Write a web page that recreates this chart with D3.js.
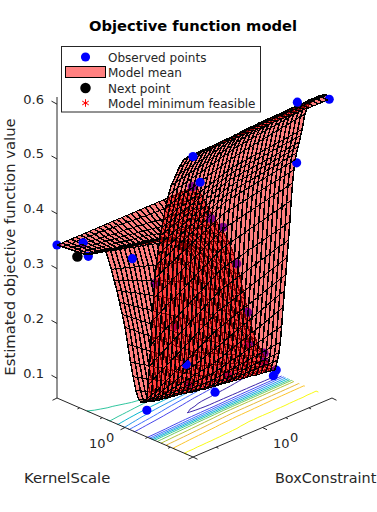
<!doctype html>
<html lang="en">
<head>
<meta charset="UTF-8">
<title>Objective function model</title>
<script src="https://cdn.jsdelivr.net/npm/d3@7"></script>
<style>
  html, body { margin: 0; padding: 0; background: #fff; }
  svg { display: block; font-family: "DejaVu Sans", sans-serif; }
</style>
</head>
<body>
<div class="canvas"></div>
<script>
// log10 of the grid, both hyperparameters run 1e-3 .. 1e3
const boxGridExp = d3.range(31).map(j => -3 + j * 0.2);
const kernelGridExp = [-3, -2.76, -2.52, -2.28, -2.04, -1.8, -1.56, -1.32, -1.08, -0.84,
  -0.6, -0.48, -0.36, -0.24, -0.12, 0, 0.12, 0.24, 0.36, 0.48, 0.6,
  0.66, 0.72, 0.78, 0.84, 0.9, 0.96, 1.02, 1.08, 1.14, 1.2, 1.26, 1.32, 1.38, 1.44, 1.5, 1.56, 1.62, 1.68,
  1.8, 1.92, 2.04, 2.22, 2.4, 2.58, 2.76, 3];

// model mean x 1000, one row per kernel scale, one column per box constraint
const modelMean = [
  [343,343,343,343,343,343,343,343,343,343,343,343,343,343,343,343,343,343,343,343,343,343,343,343,343,343,343,343,343,343,343],
  [344,344,343,343,343,343,342,342,342,341,341,340,340,339,339,338,337,337,336,336,335,335,334,334,333,333,332,332,331,331,330],
  [345,344,343,342,342,341,340,339,338,337,336,335,335,334,333,332,331,330,329,327,326,325,324,323,322,321,320,319,318,316,315],
  [346,345,344,342,341,340,339,338,336,335,334,333,332,330,329,328,326,325,323,321,320,318,316,315,313,311,310,308,306,305,303],
  [347,345,344,342,341,339,338,336,335,333,332,330,329,327,326,324,322,320,317,315,313,311,309,307,304,302,300,298,296,293,291],
  [348,346,344,343,341,339,337,335,334,332,330,328,326,325,323,321,318,316,313,310,307,305,302,299,296,294,291,288,285,283,280],
  [352,350,348,346,344,342,340,338,336,334,332,330,328,326,324,322,318,315,311,308,304,300,297,293,290,286,282,279,275,272,268],
  [358,356,354,352,351,349,347,345,343,341,339,338,336,334,332,330,324,319,313,308,302,297,291,286,280,275,269,264,258,253,247],
  [365,363,361,360,358,356,354,352,351,349,347,345,343,342,340,338,330,322,313,305,297,289,281,272,264,256,248,240,231,223,215],
  [370,368,365,363,361,359,356,354,352,350,347,345,343,341,338,336,325,315,304,293,282,272,261,250,240,229,218,207,197,186,175],
  [342,339,336,334,331,328,325,322,320,317,314,311,308,306,303,300,289,278,268,257,246,235,224,214,203,192,181,170,160,149,138],
  [324,320,317,313,309,305,302,298,294,290,287,283,279,275,272,268,258,249,239,229,219,210,200,190,180,171,161,151,141,132,122],
  [308,303,298,293,289,284,279,274,269,264,259,254,250,245,240,235,227,218,210,202,193,185,177,168,160,152,143,135,127,118,110],
  [288,282,277,271,265,259,254,248,242,236,231,225,219,213,208,202,195,189,182,175,168,162,155,148,141,135,128,121,114,108,101],
  [268,262,255,249,242,236,230,223,217,210,204,198,191,185,178,172,167,161,156,151,146,140,135,130,125,119,114,109,104,98,93],
  [247,240,234,227,220,214,207,200,194,187,180,174,167,160,154,147,143,139,135,131,127,123,118,114,110,106,102,98,94,90,86],
  [218,212,206,199,193,187,181,175,168,162,156,150,144,137,131,125,122,119,116,113,110,107,104,101,98,95,92,89,86,83,80],
  [188,183,177,172,167,161,156,151,145,140,135,129,124,119,113,108,106,104,101,99,97,95,93,90,88,86,84,82,79,77,75],
  [163,158,153,148,143,139,134,130,126,122,117,113,109,105,100,96,94,93,91,89,88,86,84,83,81,79,78,76,74,73,71],
  [140,136,131,127,123,120,117,114,111,108,105,102,99,96,93,90,89,87,86,85,83,82,81,79,78,77,75,74,73,71,70],
  [126,122,118,115,112,110,108,106,105,103,101,99,97,96,94,92,92,92,92,91,91,91,91,91,91,91,91,91,90,90,90],
  [124,120,116,113,111,110,108,107,106,105,103,102,101,100,98,97,98,98,99,99,100,100,101,101,102,102,103,103,104,104,105],
  [123,120,117,115,113,113,112,112,111,111,110,110,109,109,108,108,109,110,111,113,114,115,116,117,118,119,120,122,123,124,125],
  [124,121,119,118,118,118,118,119,119,120,120,120,121,121,122,122,124,126,129,131,133,135,137,140,142,144,146,148,151,153,155],
  [125,124,123,124,124,126,128,129,131,132,134,136,137,139,140,142,145,148,152,155,158,161,164,168,171,174,177,180,184,187,190],
  [128,128,129,132,135,138,141,144,148,151,154,157,160,164,167,170,173,177,180,184,187,191,194,198,201,205,208,212,215,219,222],
  [134,137,140,145,150,155,160,165,170,175,180,185,190,195,200,205,208,211,214,218,221,224,227,230,233,236,240,243,246,249,252],
  [160,165,171,176,181,187,192,197,203,208,213,219,224,229,235,240,243,246,249,252,255,258,261,264,267,270,273,276,279,282,285],
  [195,201,206,212,217,223,228,234,239,245,250,256,261,267,272,278,281,283,286,289,291,294,297,299,302,305,307,310,313,315,318],
  [235,241,246,252,257,263,268,274,279,285,290,296,301,307,312,318,320,323,325,327,329,332,334,336,338,341,343,345,347,350,352],
  [280,285,290,296,301,306,311,316,322,327,332,337,342,348,353,358,360,363,365,367,369,372,374,376,378,381,383,385,387,390,392],
  [322,327,332,337,341,346,351,356,361,366,371,376,380,385,390,395,397,399,401,403,405,407,409,411,413,415,417,419,421,423,425],
  [360,364,369,373,377,382,386,390,395,399,403,408,412,416,421,425,427,428,430,432,433,435,437,438,440,442,443,445,447,448,450],
  [385,389,393,397,402,406,410,414,418,422,426,430,435,439,443,447,449,450,452,453,455,456,458,459,461,462,464,465,467,468,470],
  [405,409,413,416,420,424,428,432,435,439,443,447,450,454,458,462,463,465,466,468,469,470,472,473,475,476,477,479,480,482,483],
  [425,428,432,435,439,442,445,449,452,456,459,462,466,469,473,476,477,479,480,481,482,484,485,486,487,489,490,491,492,494,495],
  [442,445,448,452,455,458,461,464,468,471,474,477,480,484,487,490,491,492,493,494,495,496,497,498,499,500,501,502,503,504,505],
  [457,460,463,466,469,472,475,478,482,485,488,491,494,497,500,503,504,505,506,507,508,509,510,511,512,513,514,515,516,517,518],
  [472,475,478,481,483,486,489,492,495,498,501,504,506,509,512,515,516,517,518,519,520,521,522,523,524,525,526,527,528,529,530],
  [498,501,503,506,509,511,514,517,519,522,525,527,530,533,535,538,539,541,542,544,545,547,548,550,551,553,554,556,557,559,560],
  [523,525,528,530,532,535,537,539,542,544,546,549,551,553,556,558,559,560,561,563,564,565,566,567,568,569,571,572,573,574,575],
  [542,544,546,548,550,552,554,556,558,560,562,564,566,568,570,572,573,574,575,575,576,577,578,579,579,580,581,582,583,584,585],
  [562,564,565,567,569,571,572,574,576,578,579,581,583,585,586,588,589,589,590,590,591,592,592,593,593,594,595,595,596,596,597],
  [582,583,584,586,587,588,589,590,592,593,594,595,596,598,599,600,600,601,601,601,601,602,602,602,603,603,603,603,604,604,604],
  [598,599,599,600,600,601,601,602,602,603,603,604,604,605,605,606,606,606,607,607,607,607,607,608,608,608,608,608,609,609,609],
  [607,607,607,608,608,608,608,608,609,609,609,609,609,610,610,610,610,610,610,611,611,611,611,611,611,611,612,612,612,612,612],
  [613,613,613,613,613,613,613,613,613,613,613,613,612,612,612,612,612,612,612,612,612,612,612,612,612,611,611,611,611,611,611]
];

// observed points, log10 box / log10 kernel / objective
const observedBox = [-3, -2.4, -2.94, -2.1, -1.2, -3, -2.4, 1.68, 2.88, 3, -2.76, 0.3, 2.94, 2.7, -1.356,
  -0.54, -0.45, 1.32, 3, 2.88, 2.88, 2.55, 2.7, 2.58, 2.82, 2.25];
const observedKernel = [-3, -2.46, -1.68, -0.6, -0.52, 3, 2.7, 2.82, 3, 1.44, 0.72, 0.6, 0.6, 0.72, 1.02,
  -0.3, 0.18, 0.12, 0, 0.12, -0.6, -0.24, -1.5, -1.92, -1.02, -2.4];
const observedValue = [0.343, 0.346, 0.345, 0.345, 0.285, 0.612, 0.549, 0.624, 0.611, 0.465, 0.104, 0.08, 0.073, 0.069, 0.168,
  0.199, 0.1, 0.083, 0.092, 0.08, 0.158, 0.112, 0.3, 0.311, 0.24, 0.366];
const nextBox = [-3], nextKernel = [-2.1], nextValue = [0.338];

const zTicks = [0.1, 0.2, 0.3, 0.4, 0.5, 0.6];
const logTickExp = [-3, -2, -1, 0, 1, 2, 3];
const majorTickExp = [-3, 0, 3];
const contourLevels = [100, 150, 200, 250, 300, 350, 400, 450, 500, 550, 600];
const contourColors = ['#3e26a8', '#4747eb', '#3e6ffe', '#2796eb', '#08b5d0', '#31c69f',
  '#71cb61', '#b4c23a', '#e6b93a', '#fcc52c', '#f9fb15'];
const legendLabels = ['Observed points', 'Model mean', 'Next point', 'Model minimum feasible'];

const width = 377, height = 512;
const axisColor = '#262626';
const svg = d3.select('.canvas').append('svg').attr('width', width).attr('height', height);

// oblique view of the box: left corner 57,398 front corner 193,457 right corner 332,398
const [ox, oy] = [57, 398];
const kernelX = d3.scaleLog().domain([1e-3, 1e3]).range([0, 136]);
const kernelY = d3.scaleLog().domain([1e-3, 1e3]).range([0, 59]);
const boxX = d3.scaleLog().domain([1e-3, 1e3]).range([0, 139]);
const boxY = d3.scaleLog().domain([1e-3, 1e3]).range([0, -59]);
const zY = d3.scaleLinear().domain([0.064, 0.613]).range([0, -301]);

const pow = e => Math.pow(10, e);
const project = (be, ke, z) => [
  ox + kernelX(pow(ke)) + boxX(pow(be)),
  oy + kernelY(pow(ke)) + boxY(pow(be)) + zY(z)
];
// bigger is further from the viewer
const depth = (be, ke, z) => {
  const k = (ke + 3) / 6, c = (be + 3) / 6;
  return (1 - k + c) * 124 - 261 * (z - 0.064);
};

// floor contours
const nc = boxGridExp.length, nk = kernelGridExp.length;
const boxOfIndex = d3.scaleLinear().domain(d3.range(nc)).range(boxGridExp);
const kernelOfIndex = d3.scaleLinear().domain(d3.range(nk)).range(kernelGridExp);
const contourGen = d3.contours().size([nc, nk]).thresholds(contourLevels);
const floorY = 0.064;
const contourG = svg.append('g').attr('fill', 'none').attr('stroke-width', 1);
const floorLine = d3.line();

contourGen(modelMean.flat()).forEach((shape, li) => {
  shape.coordinates.forEach(poly => poly.forEach(ring => {
    // drop the pieces d3 closes along the border of the grid
    const onEdge = p => p[0] <= 0 || p[0] >= nc || p[1] <= 0 || p[1] >= nk;
    const toFloor = p => {
      const xi = Math.min(nc - 1, Math.max(0, p[0] - 0.5));
      const yi = Math.min(nk - 1, Math.max(0, p[1] - 0.5));
      return project(boxOfIndex(xi), kernelOfIndex(yi), floorY);
    };
    let run = [];
    const flush = () => {
      if (run.length > 1) {
        contourG.append('path').attr('d', floorLine(run.map(toFloor))).attr('stroke', contourColors[li]);
      }
      run = [];
    };
    for (let i = 0; i < ring.length; i++) {
      if (i > 0 && onEdge(ring[i]) && onEdge(ring[i - 1])) {
        flush();
      }
      run.push(ring[i]);
    }
    flush();
  }));
});

// floor axes
const axesG = svg.append('g').attr('stroke', axisColor).attr('fill', 'none');
const floorA = project(-3, -3, floorY), floorB = project(-3, 3, floorY), floorC = project(3, 3, floorY);
axesG.append('path').attr('d', floorLine([floorA, floorB, floorC]));
axesG.append('path').attr('d', floorLine([floorA, project(-3, -3, 0.613)]));
axesG.selectAll('.ktick').data(logTickExp).join('path')
  .attr('d', e => {
    const p = project(-3, e, floorY);
    const len = majorTickExp.includes(e) ? 5 : 2.5;
    return floorLine([p, [p[0] - len * 0.9, p[1] + len * 0.45]]);
  });
axesG.selectAll('.btick').data(logTickExp).join('path')
  .attr('d', e => {
    const p = project(e, 3, floorY);
    const len = majorTickExp.includes(e) ? 5 : 2.5;
    return floorLine([p, [p[0] + len * 0.9, p[1] + len * 0.45]]);
  });
axesG.selectAll('.ztick').data(zTicks).join('path')
  .attr('d', z => {
    const p = project(-3, -3, z);
    return floorLine([p, [p[0] - 5.5, p[1] - 3]]);
  });

// surface quads and markers go through one depth sort
const items = [];
for (let i = 0; i < nk - 1; i++) {
  for (let j = 0; j < nc - 1; j++) {
    const corners = [[i, j], [i, j + 1], [i + 1, j + 1], [i + 1, j]];
    const pts = corners.map(([a, b]) => project(boxGridExp[b], kernelGridExp[a], modelMean[a][b] / 1000));
    const d = d3.mean(corners, ([a, b]) => depth(boxGridExp[b], kernelGridExp[a], modelMean[a][b] / 1000));
    items.push({ kind: 'quad', pts, d });
  }
}
observedValue.forEach((v, i) => {
  items.push({ kind: 'observed', pos: project(observedBox[i], observedKernel[i], v), d: depth(observedBox[i], observedKernel[i], v) });
});
nextValue.forEach((v, i) => {
  items.push({ kind: 'next', pos: project(nextBox[i], nextKernel[i], v), d: depth(nextBox[i], nextKernel[i], v) });
});
items.sort((a, b) => b.d - a.d);

const blueDot = d3.symbol().type(d3.symbolCircle).size(66)();
const blackDot = d3.symbol().type(d3.symbolCircle).size(86)();

// each quad is a fill, then its ribs (heavier) and cross lines (thin)
const parts = items.flatMap(d => d.kind !== 'quad' ? [d] : [
  { kind: 'fill', path: floorLine(d.pts) + 'Z' },
  { kind: 'rib', path: floorLine([d.pts[0], d.pts[3]]) + floorLine([d.pts[1], d.pts[2]]) },
  { kind: 'cross', path: floorLine([d.pts[0], d.pts[1]]) + floorLine([d.pts[3], d.pts[2]]) }
]);
const partStroke = { rib: 1.5, cross: 1 };

svg.append('g').selectAll('path').data(parts).join('path')
  .attr('d', d => d.path || (d.kind === 'observed' ? blueDot : blackDot))
  .attr('transform', d => d.pos ? `translate(${d.pos[0]},${d.pos[1]})` : null)
  .attr('fill', d => d.kind === 'fill' ? '#ff0000' : (d.kind === 'observed' ? '#0000ff' : (d.kind === 'next' ? '#000000' : 'none')))
  .attr('fill-opacity', d => d.kind === 'fill' ? 0.5 : 1)
  .attr('stroke', d => partStroke[d.kind] ? '#000000' : 'none')
  .attr('stroke-width', d => partStroke[d.kind] || 0)
  .attr('shape-rendering', d => d.path ? 'crispEdges' : null);

// tick labels
svg.append('g').selectAll('text').data(zTicks).join('text')
  .attr('x', 44).attr('y', z => project(-3, -3, z)[1] - 0.5)
  .attr('text-anchor', 'end').attr('font-size', 13).attr('fill', axisColor)
  .text(z => z.toFixed(1));

const powerLabel = (x, y) => {
  const t = svg.append('text').attr('x', x).attr('y', y).attr('font-size', 13).attr('fill', axisColor).text('10');
  t.append('tspan').attr('dy', -6).attr('dx', 0.5).attr('font-size', 13).text('0');
};
powerLabel(89, 448);
powerLabel(273, 448);

svg.append('text').attr('x', 24).attr('y', 483).attr('font-size', 14.8).attr('fill', axisColor).text('KernelScale');
svg.append('text').attr('x', 275).attr('y', 483).attr('font-size', 14.4).attr('fill', axisColor).text('BoxConstraint');
svg.append('text')
  .attr('transform', 'translate(15,247) rotate(-90)')
  .attr('text-anchor', 'middle').attr('font-size', 14.8).attr('fill', axisColor)
  .text('Estimated objective function value');
svg.append('text').attr('x', 193).attr('y', 31)
  .attr('text-anchor', 'middle').attr('font-size', 14.7).attr('font-weight', 'bold').attr('fill', '#000')
  .text('Objective function model');

// legend
const legend = svg.append('g');
legend.append('rect').attr('x', 61.5).attr('y', 46.5).attr('width', 199).attr('height', 65.5)
  .attr('fill', '#fff').attr('stroke', axisColor);
const legendY = [57, 72.5, 88, 103];
legend.selectAll('text').data(legendLabels).join('text')
  .attr('x', 108).attr('y', (d, i) => legendY[i] + 4.5)
  .attr('font-size', 12).attr('fill', axisColor).text(d => d);
legend.append('path').attr('d', blueDot).attr('transform', `translate(85.5,${legendY[0]})`).attr('fill', '#0000ff');
legend.append('rect').attr('x', 65.5).attr('y', 66.5).attr('width', 40).attr('height', 11)
  .attr('fill', '#ff8080').attr('stroke', '#000');
legend.append('path').attr('d', blackDot).attr('transform', `translate(85.5,${legendY[2]})`).attr('fill', '#000');
legend.append('path').attr('d', d3.symbol().type(d3.symbolAsterisk).size(40)())
  .attr('transform', `translate(85.5,${legendY[3]})`).attr('fill', 'none').attr('stroke', '#ff0000');
</script>
</body>
</html>
